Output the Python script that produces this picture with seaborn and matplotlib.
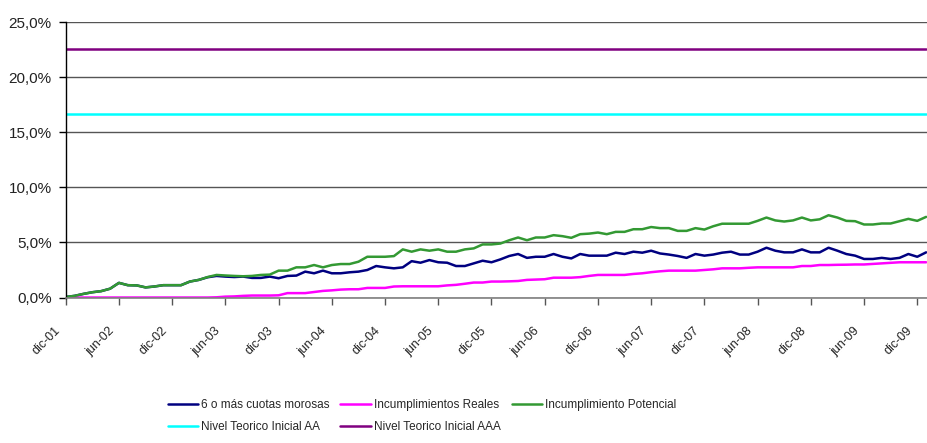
import numpy as np
import pandas as pd
import matplotlib
matplotlib.use("Agg")
import matplotlib.pyplot as plt
from matplotlib.ticker import FuncFormatter, MultipleLocator
from matplotlib.transforms import ScaledTranslation
import seaborn as sns

# ---- data (percent), monthly from dic-01 ----
morosas = [0.05, 0.15, 0.33, 0.48, 0.58, 0.8, 1.33, 1.12, 1.1, 0.92,
           1.0, 1.12, 1.12, 1.12, 1.45, 1.6, 1.84, 1.96, 1.9, 1.86,
           1.9, 1.78, 1.78, 1.9, 1.75, 1.96, 1.99, 2.35, 2.2, 2.44,
           2.2, 2.2, 2.29, 2.35, 2.5, 2.86, 2.74, 2.65, 2.74, 3.3,
           3.16, 3.4, 3.2, 3.16, 2.86, 2.86, 3.1, 3.34, 3.2, 3.46,
           3.77, 3.95, 3.6, 3.7, 3.7, 3.95, 3.7, 3.55, 3.95, 3.8,
           3.8, 3.8, 4.07, 3.95, 4.16, 4.07, 4.25, 4.0, 3.9, 3.77,
           3.6, 3.95, 3.8, 3.9, 4.07, 4.16, 3.9, 3.9, 4.16, 4.52,
           4.25, 4.1, 4.1, 4.37, 4.1, 4.1, 4.52, 4.25, 3.95, 3.8,
           3.5, 3.5, 3.6, 3.5, 3.6, 3.95, 3.7, 4.1]

reales = [0.0, 0.0, 0.0, 0.0, 0.0, 0.0, 0.0, 0.0, 0.0, 0.0,
          0.0, 0.0, 0.0, 0.0, 0.0, 0.0, 0.0, 0.02, 0.08, 0.1,
          0.15, 0.18, 0.18, 0.18, 0.2, 0.4, 0.4, 0.4, 0.5, 0.6,
          0.65, 0.72, 0.75, 0.75, 0.87, 0.87, 0.87, 1.0, 1.02, 1.02,
          1.02, 1.02, 1.02, 1.1, 1.15, 1.25, 1.36, 1.36, 1.45, 1.45,
          1.47, 1.5, 1.6, 1.63, 1.66, 1.8, 1.8, 1.8, 1.85, 1.96,
          2.05, 2.05, 2.05, 2.05, 2.14, 2.2, 2.3, 2.38, 2.44, 2.44,
          2.44, 2.44, 2.5, 2.56, 2.65, 2.65, 2.65, 2.7, 2.74, 2.74,
          2.74, 2.74, 2.74, 2.86, 2.86, 2.95, 2.95, 2.97, 2.98, 3.0,
          3.0, 3.05, 3.1, 3.15, 3.2, 3.2, 3.2, 3.2]

potencial = [0.05, 0.15, 0.33, 0.48, 0.58, 0.8, 1.33, 1.12, 1.1, 0.92,
             1.0, 1.12, 1.12, 1.12, 1.45, 1.6, 1.86, 2.05, 2.0, 1.96,
             1.93, 1.96, 2.05, 2.08, 2.44, 2.44, 2.74, 2.74, 2.95, 2.74,
             2.95, 3.04, 3.04, 3.25, 3.7, 3.7, 3.7, 3.76, 4.37, 4.16,
             4.37, 4.25, 4.37, 4.16, 4.16, 4.37, 4.46, 4.82, 4.82, 4.9,
             5.2, 5.45, 5.2, 5.45, 5.45, 5.66, 5.57, 5.42, 5.75, 5.8,
             5.9, 5.75, 5.96, 5.96, 6.2, 6.2, 6.4, 6.3, 6.3, 6.05,
             6.05, 6.3, 6.17, 6.47, 6.7, 6.7, 6.7, 6.7, 6.96, 7.26,
             7.0, 6.9, 7.0, 7.26, 7.0, 7.1, 7.47, 7.26, 6.96, 6.93,
             6.63, 6.63, 6.72, 6.72, 6.93, 7.14, 6.96, 7.32]

nivel_aa = 16.7
nivel_aaa = 22.6

tick_labels = ["dic-01", "jun-02", "dic-02", "jun-03", "dic-03", "jun-04",
               "dic-04", "jun-05", "dic-05", "jun-06", "dic-06", "jun-07",
               "dic-07", "jun-08", "dic-08", "jun-09", "dic-09"]

series_names = ["6 o más cuotas morosas", "Incumplimientos Reales",
                "Incumplimiento Potencial", "Nivel Teorico Inicial AA",
                "Nivel Teorico Inicial AAA"]
colors = ["#000080", "#FF00FF", "#339933", "#00FFFF", "#800080"]

n = len(potencial)
months = np.arange(n)
df = pd.DataFrame({
    "mes": months,
    series_names[0]: morosas,
    series_names[1]: reales,
    series_names[2]: potencial,
    series_names[3]: [nivel_aa] * n,
    series_names[4]: [nivel_aaa] * n,
})

sns.set_style("white")
plt.rcParams["font.family"] = ["Liberation Sans", "DejaVu Sans"]

fig = plt.figure(figsize=(9.27, 4.43), dpi=100)
ax = fig.add_axes([0.0709, 0.3284, 0.9291, 0.6216])

handles = []
for name, c in zip(series_names, colors):
    sns.lineplot(data=df, x="mes", y=name, ax=ax, color=c, linewidth=1.8,
                 label=name, legend=False)
    handles.append(ax.get_lines()[-1])

ax.set_xlim(0, n - 1 + 0.1)
ax.set_ylim(0, 25)
ax.yaxis.set_major_locator(MultipleLocator(5))
ax.yaxis.set_major_formatter(FuncFormatter(lambda v, p: f"{v:.1f}%".replace(".", ",")))
ax.set_xticks(np.arange(0, 97, 6))
ax.set_xticklabels(tick_labels, rotation=45, ha="right", rotation_mode="anchor")
ax.set_xlabel("")
ax.set_ylabel("")
ax.grid(axis="y", color="#555555", linewidth=1.0)
ax.grid(axis="x", visible=False)
ax.set_axisbelow(True)

for s in ["top", "right"]:
    ax.spines[s].set_visible(False)
ax.spines["left"].set_color("#000000")
ax.spines["bottom"].set_color("#808080")
ax.spines["left"].set_linewidth(1.0)
ax.spines["bottom"].set_linewidth(1.2)

ax.tick_params(axis="y", which="major", left=True, length=5, width=1,
               color="#000000", labelsize=11, pad=5, labelcolor="#222222")
ax.tick_params(axis="x", which="major", bottom=True, length=5, width=1,
               color="#555555", labelsize=9, pad=8, labelcolor="#222222")

offset = ScaledTranslation(-11 / 100, -9 / 100, fig.dpi_scale_trans)
for lab in ax.get_xticklabels():
    lab.set_transform(lab.get_transform() + offset)

order = [0, 3, 1, 4, 2]
fig.legend([handles[i] for i in order], [series_names[i] for i in order],
           loc="center", bbox_to_anchor=(422 / 927, 1 - 416 / 443),
           ncol=3, frameon=False, fontsize=8.5, handlelength=2.6,
           handletextpad=0.25, columnspacing=0.9, labelspacing=0.85)

fig.savefig("out.png", dpi=100)
